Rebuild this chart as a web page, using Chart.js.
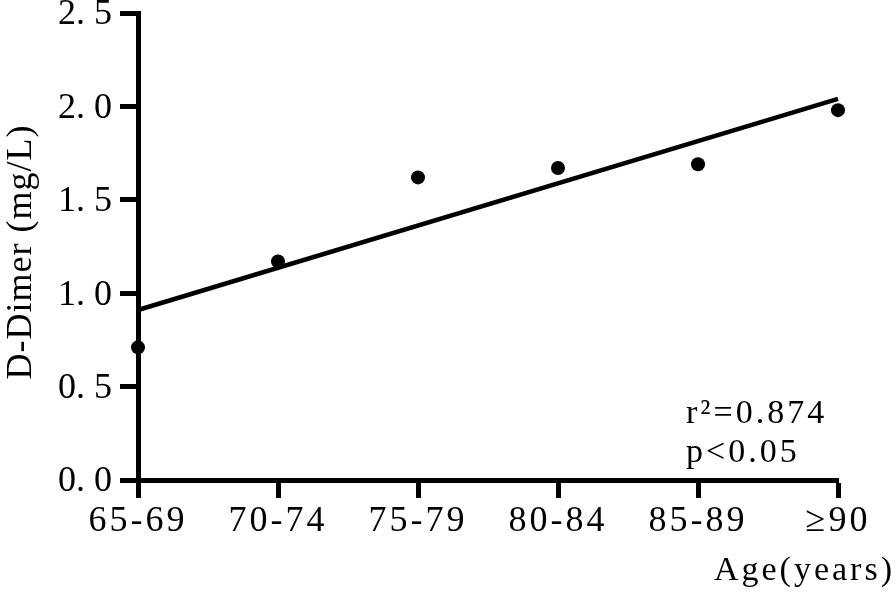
<!DOCTYPE html>
<html>
<head>
<meta charset="utf-8">
<script src="https://cdn.jsdelivr.net/npm/chart.js@4.4.1/dist/chart.umd.min.js"></script>
<style>
  html, body { margin: 0; padding: 0; background: #fff; }
  #wrap { width: 896px; height: 598px; position: relative; }
</style>
</head>
<body>
<div id="wrap"><canvas id="myChart"></canvas></div>
<script>
// values
const ageGroups = ['65-69', '70-74', '75-79', '80-84', '85-89', '\u226590'];
const dDimer = [0.71, 1.17, 1.62, 1.67, 1.69, 1.98];
// fitted line, only its two ends
const fitLine = [0.91, null, null, null, null, 2.04];
const yTickValues = [0, 0.5, 1.0, 1.5, 2.0, 2.5];
const statLines = ['r\u00b2=0.874', 'p<0.05'];

const serif = "'Liberation Serif', 'DejaVu Serif', serif";

// axis titles and the stats text, drawn by hand to get the spacing
const textPlugin = {
    id: 'extraText',
    afterDraw(chart) {
        const ctx = chart.ctx;
        const area = chart.chartArea;
        ctx.save();
        ctx.fillStyle = '#000';
        ctx.textBaseline = 'alphabetic';
        ctx.textAlign = 'left';
        ctx.font = '34px ' + serif;
        ctx.letterSpacing = '3px';
        ctx.fillText(statLines[0], area.right - 152, area.bottom - 57);
        ctx.fillText(statLines[1], area.right - 152, area.bottom - 18);

        ctx.textAlign = 'right';
        ctx.fillText('Age(years)', chart.width - 1, 580);

        // y title, rotated
        ctx.translate(31, 252);
        ctx.rotate(-Math.PI / 2);
        ctx.textAlign = 'center';
        ctx.font = '36px ' + serif;
        ctx.letterSpacing = '1px';
        ctx.fillText('D-Dimer (mg/L)', 0, 0);
        ctx.restore();
    }
};

// x labels in the original are set wider, so space the letters a bit
function spacedLabels(scale) {
    if (scale._spaced) return;
    scale._spaced = true;
    const orig = scale.drawLabels;
    scale.drawLabels = function (area) {
        const c = this.ctx;
        c.letterSpacing = '3px';
        orig.call(this, area);
        c.letterSpacing = '0px';
    };
}

const ctx = document.getElementById('myChart').getContext('2d');
const chart = new Chart(ctx, {
    type: 'line',
    data: {
        labels: ageGroups,
        datasets: [{
            data: fitLine,
            borderColor: '#000',
            borderWidth: 4.5,
            pointRadius: 0,
            spanGaps: true,
            fill: false,
            clip: false
        }, {
            data: dDimer,
            showLine: false,
            pointRadius: 7,
            pointBackgroundColor: '#000',
            pointBorderColor: '#000',
            pointBorderWidth: 0,
            clip: false
        }]
    },
    options: {
        responsive: true,
        maintainAspectRatio: false,
        animation: false,
        layout: { padding: { top: 13, right: 58, left: 0, bottom: 0 } },
        plugins: {
            legend: { display: false },
            tooltip: { enabled: false }
        },
        scales: {
            x: {
                type: 'category',
                offset: false,
                border: { display: true, color: '#000', width: 5 },
                grid: {
                    drawOnChartArea: false,
                    drawTicks: true,
                    tickLength: 18,
                    tickWidth: 5,
                    tickColor: '#000'
                },
                ticks: {
                    color: '#000',
                    font: { family: serif, size: 36 },
                    padding: 2,
                    maxRotation: 0,
                    autoSkip: false
                },
                afterFit(scale) {
                    scale.height = 118;
                    scale.paddingLeft = 0;
                    scale.paddingRight = 0;
                    spacedLabels(scale);
                }
            },
            y: {
                min: 0,
                max: 2.5,
                border: { display: true, color: '#000', width: 5 },
                grid: {
                    drawOnChartArea: false,
                    drawTicks: true,
                    tickLength: 18,
                    tickWidth: 5,
                    tickColor: '#000'
                },
                afterBuildTicks(scale) {
                    scale.ticks = yTickValues.map(v => ({ value: v }));
                },
                ticks: {
                    color: '#000',
                    font: { family: serif, size: 36 },
                    padding: 8,
                    labelOffset: 2,
                    callback: v => v.toFixed(1).replace('.', '. ')
                },
                afterFit(scale) {
                    scale.width = 138;
                    scale.paddingTop = 0;
                    scale.paddingBottom = 0;
                }
            }
        }
    },
    plugins: [textPlugin]
});
</script>
</body>
</html>
